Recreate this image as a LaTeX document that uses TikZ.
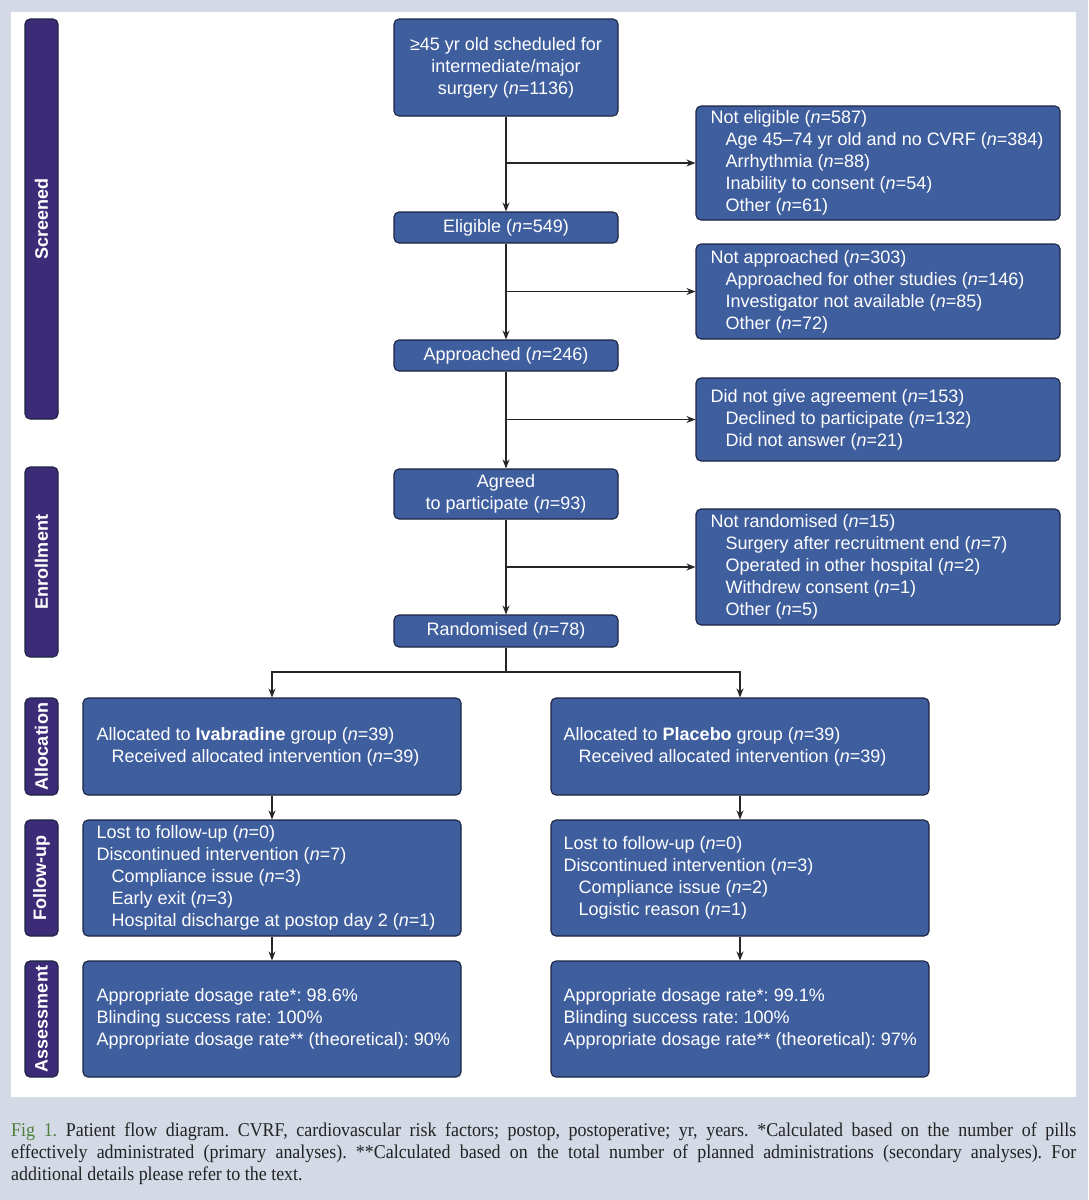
\documentclass[tikz,border=0pt]{standalone}
\usepackage{fontspec}
\usetikzlibrary{arrows.meta,positioning}
\newfontfamily\arialf{Liberation Sans}
\newfontfamily\capf[FakeStretch=0.92]{Liberation Serif}
\definecolor{bgc}{HTML}{D3DAE6}
\definecolor{boxblue}{HTML}{3F5E9E}
\definecolor{sidec}{HTML}{3C2C78}
\definecolor{edgec}{HTML}{1C2542}
\definecolor{figgreen}{HTML}{4E7D3C}
\definecolor{captxt}{HTML}{222222}
\newcommand{\nn}{\textit{n}}
\newcommand{\ind}{\hspace*{15pt}}
\frenchspacing
\tikzset{
  box/.style={draw=edgec, fill=boxblue, rounded corners=5pt, line width=1.1pt, inner sep=0pt},
  sidebar/.style={draw=edgec, fill=sidec, rounded corners=5pt, line width=1.1pt, inner sep=0pt, minimum width=33pt},
  sidelabel/.style={text=white, font=\arialf\bfseries\fontsize{18}{22}\selectfont, rotate=90},
  txt/.style={text=white, font=\arialf\fontsize{18}{22}\selectfont, inner sep=0pt, align=left, anchor=west},
  ctxt/.style={text=white, font=\arialf\fontsize{18}{22}\selectfont, inner sep=0pt, align=center},
  mainbox/.style={box, minimum width=224pt},
  sidebox/.style={box, minimum width=364pt},
  colbox/.style={box, minimum width=378pt},
  arr/.style={draw=black!85, line width=1.1pt, -{Stealth[length=9pt,width=7pt]}},
  ln/.style={draw=black!85, line width=1.1pt},
  captext/.style={text=captxt, font=\capf\frenchspacing\fontsize{19.5}{22}\selectfont, inner sep=0pt, anchor=west},
}
\begin{document}
\begin{tikzpicture}[x=1pt,y=-1pt]
\useasboundingbox (0,0) rectangle (1088,1200);
\fill[bgc] (0,0) rectangle (1088,1200);
\fill[white] (11,12) rectangle (1076,1097);

% side bars
\node[sidebar, minimum height=400pt] (sScr) at (41.5,219) {};
\node[sidelabel] (lScr) at (sScr.center) {Screened};
\node[sidebar, minimum height=190pt] (sEnr) at (41.5,562) {};
\node[sidelabel] (lEnr) at (sEnr.center) {Enrollment};
\node[sidebar, minimum height=97pt] (sAll) at (41.5,746.5) {};
\node[sidelabel] (lAll) at (sAll.center) {Allocation};
\node[sidebar, minimum height=116pt] (sFol) at (41.5,878) {};
\node[sidelabel] (lFol) at (sFol.center) {Follow-up};
\node[sidebar, minimum height=116pt] (sAss) at (41.5,1019) {};
\node[sidelabel] (lAss) at (sAss.center) {Assessment};

% main column
\node[mainbox, minimum height=97pt] (scr) at (506,67.5) {};
\node[ctxt] (scrT) at (scr.center) {≥45 yr old scheduled for\\intermediate/major\\surgery (\nn=1136)};
\node[mainbox, minimum height=31pt] (elig) at (506,227.5) {};
\node[ctxt] (eligT) at (elig.center) {Eligible (\nn=549)};
\node[mainbox, minimum height=31pt] (appr) at (506,355.5) {};
\node[ctxt] (apprT) at (appr.center) {Approached (\nn=246)};
\node[mainbox, minimum height=50pt] (agr) at (506,494) {};
\node[ctxt] (agrT) at (agr.center) {Agreed\\to participate (\nn=93)};
\node[mainbox, minimum height=32pt] (rand) at (506,631) {};
\node[ctxt] (randT) at (rand.center) {Randomised (\nn=78)};

% side boxes
\node[sidebox, minimum height=114pt] (ne) at (878,163) {};
\node[txt] (neT) at ([xshift=15pt]ne.west) {Not eligible (\nn=587)\\\ind Age 45–74 yr old and no CVRF (\nn=384)\\\ind Arrhythmia (\nn=88)\\\ind Inability to consent (\nn=54)\\\ind Other (\nn=61)};
\node[sidebox, minimum height=95pt] (na) at (878,291.5) {};
\node[txt] (naT) at ([xshift=15pt]na.west) {Not approached (\nn=303)\\\ind Approached for other studies (\nn=146)\\\ind Investigator not available (\nn=85)\\\ind Other (\nn=72)};
\node[sidebox, minimum height=83pt] (dng) at (878,419.5) {};
\node[txt] (dngT) at ([xshift=15pt]dng.west) {Did not give agreement (\nn=153)\\\ind Declined to participate (\nn=132)\\\ind Did not answer (\nn=21)};
\node[sidebox, minimum height=116pt] (nr) at (878,567) {};
\node[txt] (nrT) at ([xshift=15pt]nr.west) {Not randomised (\nn=15)\\\ind Surgery after recruitment end (\nn=7)\\\ind Operated in other hospital (\nn=2)\\\ind Withdrew consent (\nn=1)\\\ind Other (\nn=5)};

% arms
\node[colbox, minimum height=97pt] (ivaA) at (272,746.5) {};
\node[txt] (ivaAT) at ([xshift=14pt]ivaA.west) {Allocated to \textbf{Ivabradine} group (\nn=39)\\\ind Received allocated intervention (\nn=39)};
\node[colbox, minimum height=97pt] (plaA) at (740,746.5) {};
\node[txt] (plaAT) at ([xshift=13pt]plaA.west) {Allocated to \textbf{Placebo} group (\nn=39)\\\ind Received allocated intervention (\nn=39)};

\node[colbox, minimum height=116pt] (ivaF) at (272,878) {};
\node[txt] (ivaFT) at ([xshift=14pt]ivaF.west) {Lost to follow-up (\nn=0)\\Discontinued intervention (\nn=7)\\\ind Compliance issue (\nn=3)\\\ind Early exit (\nn=3)\\\ind Hospital discharge at postop day 2 (\nn=1)};
\node[colbox, minimum height=116pt] (plaF) at (740,878) {};
\node[txt] (plaFT) at ([xshift=13pt]plaF.west) {Lost to follow-up (\nn=0)\\Discontinued intervention (\nn=3)\\\ind Compliance issue (\nn=2)\\\ind Logistic reason (\nn=1)};

\node[colbox, minimum height=116pt] (ivaS) at (272,1019) {};
\node[txt] (ivaST) at ([xshift=14pt]ivaS.west) {Appropriate dosage rate*: 98.6\%\\Blinding success rate: 100\%\\Appropriate dosage rate** (theoretical): 90\%};
\node[colbox, minimum height=116pt] (plaS) at (740,1019) {};
\node[txt] (plaST) at ([xshift=13pt]plaS.west) {Appropriate dosage rate*: 99.1\%\\Blinding success rate: 100\%\\Appropriate dosage rate** (theoretical): 97\%};

% connectors
\draw[arr] (scr.south) -- (elig.north);
\draw[arr] (elig.south) -- (appr.north);
\draw[arr] (appr.south) -- (agr.north);
\draw[arr] (agr.south) -- (rand.north);
\draw[arr] (scr.south |- ne.west) -- (ne.west);
\draw[arr] (elig.south |- na.west) -- (na.west);
\draw[arr] (appr.south |- dng.west) -- (dng.west);
\draw[arr] (agr.south |- nr.west) -- (nr.west);
\coordinate (split) at (506,672);
\draw[ln] (rand.south) -- (split);
\draw[arr] (split) -| (ivaA.north);
\draw[arr] (split) -| (plaA.north);
\draw[arr] (ivaA.south) -- (ivaF.north);
\draw[arr] (ivaF.south) -- (ivaS.north);
\draw[arr] (plaA.south) -- (plaF.north);
\draw[arr] (plaF.south) -- (plaS.north);

% caption
\node[captext] (cap1) at (11,1132) {\makebox[1065pt][s]{\textcolor{figgreen}{Fig 1.} Patient flow diagram. CVRF, cardiovascular risk factors; postop, postoperative; yr, years. *Calculated based on the number of pills}};
\node[captext] (cap2) at (11,1154) {\makebox[1065pt][s]{effectively administrated (primary analyses). **Calculated based on the total number of planned administrations (secondary analyses). For}};
\node[captext] (cap3) at (11,1176) {additional details please refer to the text.};
\end{tikzpicture}
\end{document}
